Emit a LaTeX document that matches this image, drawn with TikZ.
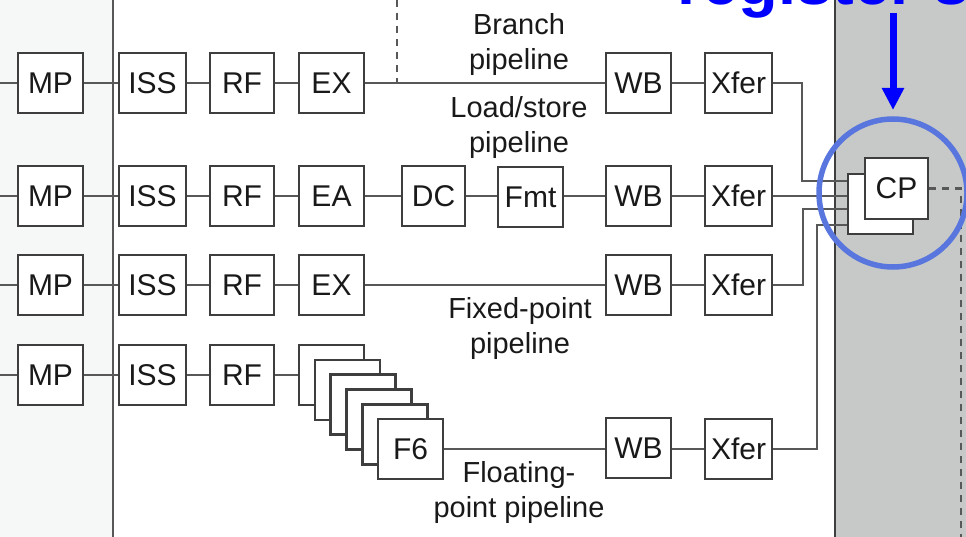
\documentclass[tikz,border=0pt]{standalone}
\usepackage{fontspec}
\setmainfont{Liberation Sans}
\usetikzlibrary{arrows.meta}
\definecolor{boxc}{RGB}{62,62,62}
\definecolor{linec}{RGB}{88,88,88}
\definecolor{panel}{RGB}{198,201,200}
\definecolor{leftbg}{RGB}{246,247,247}
\definecolor{ring}{RGB}{88,118,222}
\definecolor{txt}{RGB}{25,25,25}
\begin{document}
\begin{tikzpicture}[x=1pt,y=-1pt,
  stage/.style={draw=boxc,line width=2.6pt,fill=white,minimum width=65pt,minimum height=60pt,inner sep=0pt,font=\fontsize{30}{31}\selectfont,text=txt},
  conn/.style={draw=linec,line width=2.2pt},
  lbl/.style={font=\fontsize{29}{35}\selectfont,align=center,text=txt},
  dashc/.style={draw=linec,line width=2.2pt,dash pattern=on 7pt off 6pt}]
\useasboundingbox (0,0) rectangle (966,537);
\clip (0,0) rectangle (966,537);
% backgrounds
\fill[leftbg] (0,0) rectangle (113,537);
\fill[panel] (835,0) rectangle (966,537);
\draw[linec,line width=2.2pt] (113,0) -- (113,537);
\draw[boxc,line width=2.2pt] (835,0) -- (835,537);
% title text (cut off at top)
\node[anchor=base west,inner sep=0pt,text=blue,font=\fontsize{65}{70}\selectfont\bfseries] (reg) at (677,5) {register s};
% free coordinates
\coordinate (l1) at (0,83);
\coordinate (l2) at (0,196);
\coordinate (l3) at (0,285);
\coordinate (l4) at (0,375);
\coordinate (dtop) at (397,0);
\coordinate (dbot) at (397,83);
\coordinate (dend) at (961,537);
\coordinate (atop) at (893,13);
\coordinate (abot) at (893,110);
% row 1
\node[stage] (mp1) at (50.5,83) {MP};
\node[stage,minimum width=67pt] (iss1) at (152.5,83) {ISS};
\node[stage,minimum width=64pt] (rf1) at (242,83) {RF};
\node[stage] (ex1) at (331.5,83) {EX};
\node[stage] (wb1) at (638.5,83) {WB};
\node[stage,minimum width=67pt] (xf1) at (738.5,83) {Xfer};
% row 2
\node[stage] (mp2) at (50.5,196) {MP};
\node[stage,minimum width=67pt] (iss2) at (152.5,196) {ISS};
\node[stage,minimum width=64pt] (rf2) at (242,196) {RF};
\node[stage] (ea2) at (331.5,196) {EA};
\node[stage,minimum width=63pt] (dc2) at (433.5,196) {DC};
\node[stage] (fmt2) at (530.5,197) {Fmt};
\node[stage] (wb2) at (638.5,196) {WB};
\node[stage,minimum width=67pt] (xf2) at (738.5,196) {Xfer};
% row 3
\node[stage] (mp3) at (50.5,285) {MP};
\node[stage,minimum width=67pt] (iss3) at (152.5,285) {ISS};
\node[stage,minimum width=64pt] (rf3) at (242,285) {RF};
\node[stage] (ex3) at (331.5,285) {EX};
\node[stage] (wb3) at (638.5,285) {WB};
\node[stage,minimum width=67pt] (xf3) at (738.5,285) {Xfer};
% row 4
\node[stage] (mp4) at (50.5,375) {MP};
\node[stage,minimum width=67pt] (iss4) at (152.5,375) {ISS};
\node[stage,minimum width=64pt] (rf4) at (242,375) {RF};
\foreach \k in {0,...,4}
  \node[stage] (st\k) at ({331.5+15.8*\k},{375+14.8*\k}) {};
\node[stage] (f6) at (410.5,449) {F6};
\node[stage] (wb4) at (638.5,448) {WB};
\node[stage,minimum width=67pt] (xf4) at (738.5,449) {Xfer};
% CP stack
\node[stage] (cpb) at (880.5,204) {};
\node[stage,minimum width=63pt,minimum height=61pt] (cp) at (896.5,188.5) {CP};
% labels
\node[lbl] (lb1) at (519,45) {Branch\\pipeline};
\node[lbl] (lb2) at (519,128) {Load/store\\pipeline};
\node[lbl] (lb3) at (520,329) {Fixed-point\\pipeline};
\node[lbl] (lb4) at (519,492) {Floating-\\point pipeline};
% connectors
\draw[conn] (l1) -- (mp1.west);
\draw[conn] (mp1.east) -- (iss1.west);
\draw[conn] (iss1.east) -- (rf1.west);
\draw[conn] (rf1.east) -- (ex1.west);
\draw[conn] (ex1.east) -- (wb1.west);
\draw[conn] (wb1.east) -- (xf1.west);
\draw[conn] (xf1.east) -| (802,181) -- (cpb.west |- 0,181);
\draw[conn] (l2) -- (mp2.west);
\draw[conn] (mp2.east) -- (iss2.west);
\draw[conn] (iss2.east) -- (rf2.west);
\draw[conn] (rf2.east) -- (ea2.west);
\draw[conn] (ea2.east) -- (dc2.west);
\draw[conn] (dc2.east) -- (fmt2.west |- dc2.east);
\draw[conn] (fmt2.east |- wb2.west) -- (wb2.west);
\draw[conn] (wb2.east) -- (xf2.west);
\draw[conn] (xf2.east) -- (cpb.west |- xf2.east);
\draw[conn] (l3) -- (mp3.west);
\draw[conn] (mp3.east) -- (iss3.west);
\draw[conn] (iss3.east) -- (rf3.west);
\draw[conn] (rf3.east) -- (ex3.west);
\draw[conn] (ex3.east) -- (wb3.west);
\draw[conn] (wb3.east) -- (xf3.west);
\draw[conn] (xf3.east) -| (803,209) -- (cpb.west |- 0,209);
\draw[conn] (l4) -- (mp4.west);
\draw[conn] (mp4.east) -- (iss4.west);
\draw[conn] (iss4.east) -- (rf4.west);
\draw[conn] (rf4.east) -- (st0.west);
\draw[conn] (f6.east) -- (wb4.west |- f6.east);
\draw[conn] (wb4.east |- xf4.west) -- (xf4.west);
\draw[conn] (xf4.east) -| (817,225) -- (cpb.west |- 0,225);
\draw[dashc] (dtop) -- (dbot);
\draw[dashc] (cp.east) -| (dend);
% highlight
\draw[ring,line width=5.5pt] (893,193) circle[radius=74pt];
\draw[blue,line width=7pt,-{Triangle[width=21pt,length=22pt]}] (atop) -- (abot);
\end{tikzpicture}
\end{document}
